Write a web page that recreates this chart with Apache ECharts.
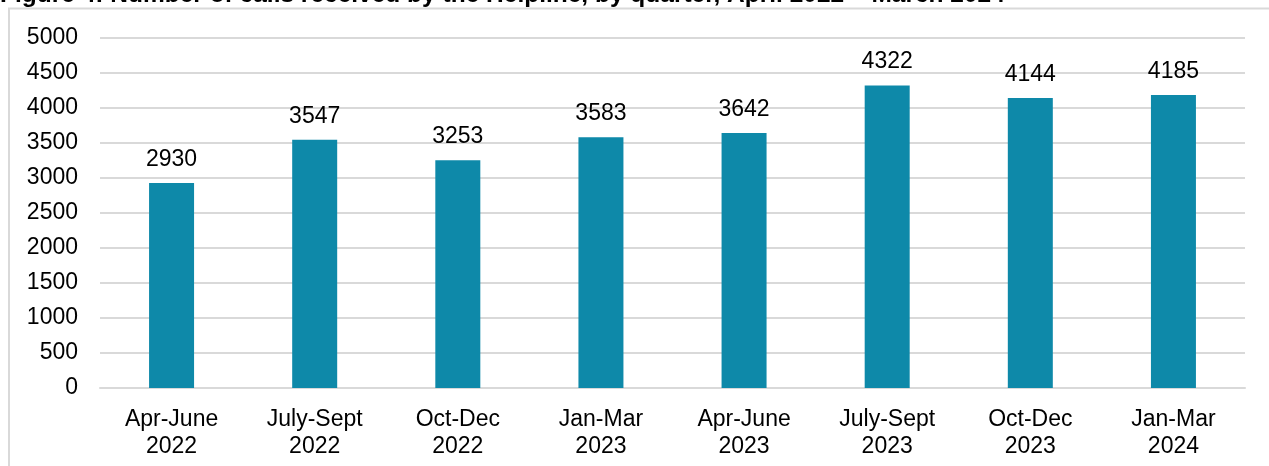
<!DOCTYPE html>
<html><head><meta charset="utf-8">
<script src="https://cdn.jsdelivr.net/npm/echarts@6/dist/echarts.min.js"></script>
<style>html,body{margin:0;padding:0;background:#fff}#c{width:1269px;height:466px}</style>
</head><body><div id="c"></div>
<script>
const categories = ['Apr-June\n2022','July-Sept\n2022','Oct-Dec\n2022','Jan-Mar\n2023','Apr-June\n2023','July-Sept\n2023','Oct-Dec\n2023','Jan-Mar\n2024'];
const calls = [2930, 3547, 3253, 3583, 3642, 4322, 4144, 4185];
const titleText = 'Figure 4: Number of calls received by the Helpline, by quarter, April 2022 \u2013 March 2024';
const font = '"Liberation Sans", Arial, sans-serif';
const chart = echarts.init(document.getElementById('c'), null, {renderer:'canvas'});
chart.setOption({
  animation: false,
  backgroundColor: '#fff',
  graphic: [
    {type:'polyline', shape:{points:[[9,466],[9,8.5],[1269,8.5]]}, style:{stroke:'#d9d9d9', lineWidth:2, fill:null}},
    {type:'text', x:0, y:8, style:{text:titleText, font:'bold 24.5px ' + font, fill:'#000', verticalAlign:'bottom'}}
  ],
  grid: {left:100, right:24, top:38, bottom:78, containLabel:false},
  xAxis: {
    type:'category', data:categories,
    axisLine:{lineStyle:{color:'#d9d9d9', width:2}},
    axisTick:{show:false},
    axisLabel:{color:'#000', fontSize:23, fontFamily:font, lineHeight:27, margin:18, interval:0}
  },
  yAxis: {
    type:'value', min:0, max:5000, interval:500,
    axisLine:{show:false}, axisTick:{show:false},
    splitLine:{lineStyle:{color:'#d9d9d9', width:2}},
    axisLabel:{color:'#000', fontSize:23, fontFamily:font, margin:22, formatter: v => String(v)}
  },
  series: [{
    type:'bar', data:calls, barWidth:45,
    itemStyle:{color:'#0e89a9'},
    label:{show:true, position:'top', distance:12, color:'#000', fontSize:23, fontFamily:font}
  }]
});
</script></body></html>
